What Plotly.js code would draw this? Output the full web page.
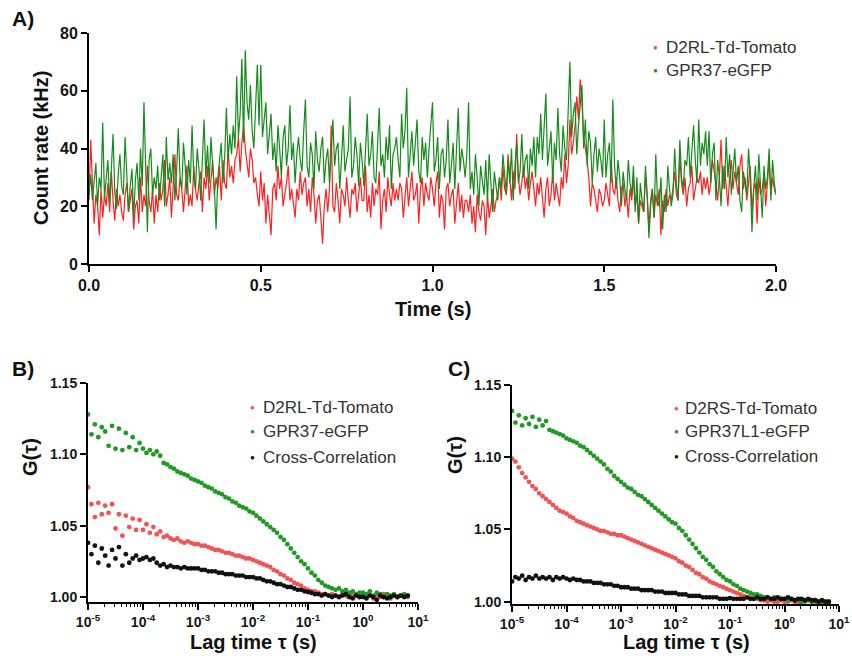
<!DOCTYPE html>
<html><head><meta charset="utf-8">
<script src="https://cdn.plot.ly/plotly-3.0.1.min.js"></script>
<style>body{margin:0;background:#fff}#chart{width:852px;height:661px}</style>
</head><body><div id="chart"></div>
<script>
// ---------- Panel A: count-rate traces (kHz), sampled every 5 ms ----------
const sampleInterval = 0.005; // s
const countRed = [
22,43,28,14,24,20,10,26,16,24,20,28,18,32,22,15,26,20,24,18,
15,24,28,18,22,26,12,20,22,14,30,18,24,20,34,22,18,26,14,24,
18,28,22,26,36,20,24,30,16,28,38,24,22,30,26,18,28,34,20,24,
20,34,26,22,28,32,18,30,26,34,22,28,36,24,30,26,34,22,36,28,
26,40,30,34,28,36,38,44,32,42,48,40,34,30,40,36,28,30,24,20,
32,22,28,14,24,18,10,26,28,22,34,26,30,20,24,28,34,22,26,20,
16,26,22,32,24,28,30,20,26,18,30,24,14,22,24,16,7,20,26,18,
26,48,20,18,28,22,14,26,24,20,30,22,16,26,24,28,18,24,30,22,
22,34,18,24,16,28,20,26,24,32,12,22,26,18,30,24,20,28,22,26,
22,28,26,16,24,30,20,26,32,22,24,28,14,26,30,20,28,24,22,30,
26,20,28,32,16,24,22,12,26,28,20,24,26,14,22,28,18,24,16,22,
22,18,24,14,20,11,24,18,15,22,20,10,24,16,20,26,18,22,24,30,
22,34,26,24,38,28,22,32,26,45,30,24,28,34,26,30,22,28,32,26,
20,28,24,30,22,16,26,30,20,24,32,22,28,24,20,30,26,38,28,34,
50,38,42,48,58,50,64,56,44,40,36,30,20,28,26,22,18,26,24,20,
22,28,24,20,36,26,24,30,22,18,26,28,20,24,16,26,22,30,20,24,
14,22,20,18,30,24,12,22,26,16,24,20,26,10,22,18,26,20,24,22,
26,32,24,22,38,28,24,30,20,26,28,34,22,26,30,28,32,24,30,26,
30,24,28,36,32,28,22,30,43,26,34,28,20,30,36,26,32,28,24,34,
38,26,30,22,28,34,18,26,28,14,30,24,26,32,20,28,36,24,30,26,
24];
const countGreen = [
24,31,22,28,35,20,30,26,49,23,29,36,21,33,45,25,19,31,38,27,
24,44,30,18,27,33,16,29,35,22,40,27,56,31,11,36,40,24,30,26,
34,22,30,38,20,44,29,35,28,38,22,32,47,30,26,42,34,24,36,28,
48,30,26,40,33,22,36,50,30,41,28,44,34,26,12,30,36,42,28,37,
54,36,45,38,48,40,65,44,52,71,42,74,56,50,62,46,40,58,69,48,
69,44,50,56,38,46,52,36,42,32,48,40,30,44,48,34,40,55,36,42,
28,38,44,36,32,46,57,34,30,42,38,26,46,36,32,40,44,28,36,40,
28,38,50,34,40,42,26,36,48,32,36,40,58,30,34,44,38,27,42,36,
27,40,52,34,38,46,30,28,42,54,34,38,30,44,36,48,26,38,40,44,
36,30,52,40,46,61,30,38,46,34,42,50,32,28,44,36,42,30,40,48,
56,32,36,44,26,38,40,30,36,50,28,34,42,26,38,54,32,40,36,30,
38,56,26,32,24,38,30,20,34,28,24,36,22,38,28,18,32,26,22,30,
26,38,30,24,36,28,40,22,34,42,28,32,45,30,36,38,26,40,34,44,
30,44,38,52,36,46,59,34,40,46,28,42,36,54,38,32,48,40,36,50,
70,44,52,56,38,48,54,62,40,50,34,46,42,28,38,44,32,40,36,30,
50,30,38,42,28,57,34,26,36,30,20,32,26,22,36,28,24,34,18,30,
14,28,22,18,34,24,9,20,26,16,38,22,20,30,12,24,18,34,26,20,
24,40,28,22,43,30,26,36,34,44,30,38,48,36,28,50,34,42,38,46,
34,46,28,38,42,22,36,30,20,34,26,44,30,38,24,32,40,28,34,22,
18,32,28,24,40,30,11,26,34,22,38,28,16,34,26,30,40,22,36,28,
24];
const timeS = countRed.map((_, i) => +(i * sampleInterval).toFixed(4));

// ---------- Panels B & C: correlation curves G(tau); lag times 16 per decade from 1e-5 s ----------
const tauFirstExp = -5, tauPerDecade = 16;
const gB_red = [
1.077,1.065,1.056,1.066,1.058,1.064,1.059,1.065,1.048,1.058,1.043,1.057,1.049,1.055,1.047,1.054,
1.047,1.051,1.045,1.049,1.044,1.046,1.042,1.043,1.041,1.040,1.041,1.039,1.038,1.039,1.038,1.037,
1.037,1.036,1.036,1.035,1.034,1.033,1.033,1.032,1.031,1.031,1.030,1.029,1.029,1.028,1.027,1.027,
1.026,1.025,1.024,1.023,1.022,1.021,1.019,1.018,1.016,1.015,1.013,1.012,1.010,1.009,1.008,1.006,
1.005,1.004,1.004,1.003,1.002,1.002,1.001,1.002,1.001,1.000,1.002,1.001,1.000,1.001,1.002,1.000,
1.001,1.000,1.001,0.999,1.001,1.000,1.002,1.000,0.999,1.001,1.000,1.001,1.000,1.000];
const gB_green = [
1.128,1.114,1.121,1.112,1.119,1.116,1.106,1.120,1.104,1.118,1.103,1.115,1.105,1.112,1.103,1.108,
1.104,1.101,1.103,1.100,1.102,1.099,1.094,1.093,1.091,1.090,1.088,1.087,1.086,1.085,1.083,1.082,
1.081,1.080,1.078,1.077,1.076,1.074,1.073,1.072,1.070,1.069,1.067,1.066,1.064,1.063,1.062,1.060,
1.059,1.057,1.055,1.053,1.051,1.049,1.047,1.045,1.042,1.040,1.037,1.034,1.031,1.028,1.025,1.023,
1.020,1.017,1.015,1.012,1.010,1.008,1.007,1.006,1.005,1.006,1.004,1.005,1.003,1.004,1.002,1.003,
1.003,1.002,1.004,1.001,1.003,1.002,1.000,1.002,1.001,1.002,1.000,1.001,1.002,1.001];
const gB_cross = [
1.038,1.030,1.036,1.024,1.034,1.029,1.022,1.033,1.027,1.035,1.022,1.030,1.024,1.027,1.029,1.026,
1.027,1.028,1.026,1.027,1.024,1.022,1.023,1.021,1.022,1.021,1.021,1.020,1.021,1.020,1.020,1.020,
1.020,1.019,1.019,1.018,1.018,1.018,1.017,1.017,1.016,1.016,1.016,1.015,1.015,1.015,1.014,1.014,
1.014,1.013,1.013,1.012,1.011,1.011,1.010,1.009,1.009,1.008,1.007,1.007,1.006,1.005,1.005,1.004,
1.0035,1.003,1.002,1.002,1.001,1.002,1.001,1.000,1.001,1.000,1.001,1.002,1.000,0.999,1.001,1.000,
1.000,0.999,1.001,1.000,0.998,1.001,1.000,0.999,1.000,1.001,1.000,1.001,1.000,1.001];
const gC_red = [
1.099,1.097,1.093,1.089,1.086,1.083,1.080,1.078,1.075,1.073,1.071,1.069,1.067,1.065,1.063,1.062,
1.061,1.059,1.058,1.056,1.055,1.054,1.053,1.052,1.051,1.050,1.049,1.049,1.048,1.047,1.047,1.046,
1.046,1.045,1.044,1.043,1.042,1.041,1.040,1.039,1.038,1.037,1.036,1.035,1.034,1.033,1.032,1.031,
1.030,1.028,1.027,1.025,1.024,1.022,1.020,1.019,1.017,1.016,1.014,1.013,1.012,1.011,1.010,1.009,
1.008,1.007,1.006,1.005,1.004,1.003,1.003,1.002,1.002,1.001,1.001,1.000,1.001,1.000,1.000,1.001,
1.000,1.000,1.001,1.000,0.999,1.000,1.000,1.001,1.000,0.999,1.000,1.000,1.000,1.000];
const gC_green = [
1.132,1.124,1.129,1.122,1.127,1.123,1.128,1.121,1.126,1.122,1.125,1.119,1.118,1.117,1.116,1.115,
1.113,1.112,1.111,1.110,1.108,1.107,1.105,1.103,1.101,1.099,1.097,1.095,1.092,1.090,1.087,1.085,
1.083,1.081,1.079,1.078,1.076,1.074,1.073,1.071,1.069,1.067,1.065,1.063,1.061,1.059,1.057,1.055,
1.054,1.051,1.049,1.046,1.043,1.040,1.037,1.034,1.031,1.029,1.026,1.024,1.021,1.019,1.017,1.015,
1.014,1.012,1.011,1.009,1.008,1.007,1.006,1.005,1.005,1.004,1.003,1.003,1.002,1.003,1.002,1.002,
1.002,1.001,1.002,1.001,1.001,1.000,1.001,1.001,1.000,1.001,1.000,1.000,1.000,1.000];
const gC_cross = [
1.014,1.017,1.016,1.018,1.015,1.017,1.016,1.018,1.016,1.017,1.016,1.017,1.015,1.017,1.016,1.017,
1.016,1.015,1.016,1.015,1.015,1.014,1.014,1.014,1.013,1.013,1.013,1.012,1.012,1.012,1.011,1.011,
1.010,1.010,1.010,1.009,1.009,1.009,1.008,1.008,1.008,1.008,1.007,1.007,1.007,1.006,1.006,1.006,
1.006,1.005,1.005,1.005,1.004,1.004,1.004,1.004,1.003,1.003,1.003,1.003,1.003,1.002,1.002,1.002,
1.0025,1.002,1.002,1.002,1.002,1.003,1.002,1.002,1.003,1.002,1.002,1.003,1.002,1.002,1.003,1.002,
1.002,1.003,1.002,1.001,1.002,1.002,1.001,1.002,1.001,1.001,1.000,1.001,1.000,1.000];
const tauS = gB_red.map((_, k) => Math.pow(10, tauFirstExp + k / tauPerDecade));

// ---------- Labels ----------
const namesA = ['D2RL-Td-Tomato', 'GPR37-eGFP'];
const namesB = ['D2RL-Td-Tomato', 'GPR37-eGFP', 'Cross-Correlation'];
const namesC = ['D2RS-Td-Tomato', 'GPR37L1-eGFP', 'Cross-Correlation'];
const ticksA_x = [0, 0.5, 1, 1.5, 2];
const ticksA_y = [0, 20, 40, 60, 80];
const ticksG_y = [1.00, 1.05, 1.10, 1.15];
const tauTickVals = [1e-5, 1e-4, 1e-3, 1e-2, 1e-1, 1, 10];
const tauTickText = ['10<sup>-5</sup>','10<sup>-4</sup>','10<sup>-3</sup>','10<sup>-2</sup>','10<sup>-1</sup>','10<sup>0</sup>','10<sup>1</sup>'];
const tauMinor = [];
for (let e = -5; e <= 0; e++) for (let m = 2; m <= 9; m++) tauMinor.push(m * Math.pow(10, e));

// ---------- Styling ----------
const W = 852, H = 661;
const FONT = 'Liberation Sans, Arial, Helvetica, sans-serif';
const RED_LINE = '#ff1f1f', GREEN_LINE = '#148c1c';
const RED_DOT = '#f05454', GREEN_DOT = '#1f9a23', BLACK_DOT = '#111111';
const DOT = 4.8;
const fx = p => p / W, fy = p => 1 - p / H;

function axisBase(size) {
  return {showline: true, linecolor: '#000', linewidth: 2, ticks: 'outside', ticklen: 6,
    tickwidth: 2, tickcolor: '#000', showgrid: false, zeroline: false, automargin: false,
    fixedrange: true, tickfont: {family: FONT, size: size, color: '#151515', weight: 'bold'}};
}
function logX(domain, anchor) {
  return Object.assign(axisBase(14), {type: 'log', range: [-5, 1], domain: domain, anchor: anchor,
    tickmode: 'array', tickvals: tauTickVals, ticktext: tauTickText, ticklabeloverflow: 'allow',
    minor: {tickmode: 'array', tickvals: tauMinor, ticks: 'outside', ticklen: 3, tickwidth: 1, tickcolor: '#000'}});
}
function gY(domain, anchor, lo) {
  return Object.assign(axisBase(14), {range: [lo, 1.15], domain: domain, anchor: anchor,
    tickmode: 'array', tickvals: ticksG_y, tickformat: '.2f'});
}

const traces = [
  {x: timeS, y: countRed, type: 'scatter', mode: 'lines', name: namesA[0], line: {color: RED_LINE, width: 1.2}, xaxis: 'x', yaxis: 'y', showlegend: false},
  {x: timeS, y: countGreen, type: 'scatter', mode: 'lines', name: namesA[1], line: {color: GREEN_LINE, width: 1.2}, xaxis: 'x', yaxis: 'y', showlegend: false},
  {x: tauS, y: gB_red, type: 'scatter', mode: 'markers', name: namesB[0], marker: {color: RED_DOT, size: DOT}, xaxis: 'x2', yaxis: 'y2', showlegend: false},
  {x: tauS, y: gB_green, type: 'scatter', mode: 'markers', name: namesB[1], marker: {color: GREEN_DOT, size: DOT}, xaxis: 'x2', yaxis: 'y2', showlegend: false},
  {x: tauS, y: gB_cross, type: 'scatter', mode: 'markers', name: namesB[2], marker: {color: BLACK_DOT, size: DOT}, xaxis: 'x2', yaxis: 'y2', showlegend: false},
  {x: tauS, y: gC_red, type: 'scatter', mode: 'markers', name: namesC[0], marker: {color: RED_DOT, size: DOT}, xaxis: 'x3', yaxis: 'y3', showlegend: false},
  {x: tauS, y: gC_green, type: 'scatter', mode: 'markers', name: namesC[1], marker: {color: GREEN_DOT, size: DOT}, xaxis: 'x3', yaxis: 'y3', showlegend: false},
  {x: tauS, y: gC_cross, type: 'scatter', mode: 'markers', name: namesC[2], marker: {color: BLACK_DOT, size: DOT}, xaxis: 'x3', yaxis: 'y3', showlegend: false}
];

const ann = [];
function label(text, x, y, size, opts) {
  ann.push(Object.assign({text: text, x: fx(x), y: fy(y), xref: 'paper', yref: 'paper', showarrow: false,
    xanchor: 'center', yanchor: 'middle', font: {family: FONT, size: size, color: '#111'}}, opts || {}));
}
// panel letters
label('<b>A)</b>', 10, 18, 21, {xanchor: 'left'});
label('<b>B)</b>', 10, 368, 21, {xanchor: 'left'});
label('<b>C)</b>', 446, 368, 21, {xanchor: 'left'});
// axis titles
label('<b>Count rate (kHz)</b>', 41, 148, 20, {textangle: -90});
label('<b>Time (s)</b>', 433, 309, 20);
label('<b>G(τ)</b>', 30, 457, 20, {textangle: -90});
label('<b>Lag time τ (s)</b>', 254, 642, 20);
label('<b>G(τ)</b>', 455, 455, 20, {textangle: -90});
label('<b>Lag time τ (s)</b>', 686, 642, 20);
// legends
function legendRow(name, color, mx, tx, y) {
  label('●', mx, y, 8, {font: {family: FONT, size: 8, color: color}});
  label(name, tx, y, 17, {xanchor: 'left', font: {family: FONT, size: 17, color: '#333'}});
}
legendRow(namesA[0], RED_DOT, 655, 664, 47);
legendRow(namesA[1], GREEN_DOT, 655, 664, 71);
legendRow(namesB[0], RED_DOT, 252, 261, 407);
legendRow(namesB[1], GREEN_DOT, 252, 261, 432);
legendRow(namesB[2], BLACK_DOT, 252, 261, 457);
legendRow(namesC[0], RED_DOT, 676, 683, 408);
legendRow(namesC[1], GREEN_DOT, 676, 683, 432);
legendRow(namesC[2], BLACK_DOT, 676, 683, 456);

const layout = {
  width: W, height: H, margin: {l: 0, r: 0, t: 0, b: 0},
  paper_bgcolor: '#fff', plot_bgcolor: '#fff', showlegend: false,
  font: {family: FONT},
  xaxis: Object.assign(axisBase(16), {domain: [fx(89), fx(776)], range: [0, 2], anchor: 'y',
    tickmode: 'array', tickvals: ticksA_x, tickformat: '.1f'}),
  yaxis: Object.assign(axisBase(16), {domain: [fy(264), fy(33)], range: [0, 80], anchor: 'x',
    tickmode: 'array', tickvals: ticksA_y}),
  xaxis2: logX([fx(88), fx(418)], 'y2'),
  yaxis2: gY([fy(602), fy(383)], 'x2', 0.9965),
  xaxis3: logX([fx(512), fx(839)], 'y3'),
  yaxis3: gY([fy(604), fy(385)], 'x3', 0.9984),
  annotations: ann
};

Plotly.newPlot('chart', traces, layout, {staticPlot: true, displayModeBar: false});
</script></body></html>
